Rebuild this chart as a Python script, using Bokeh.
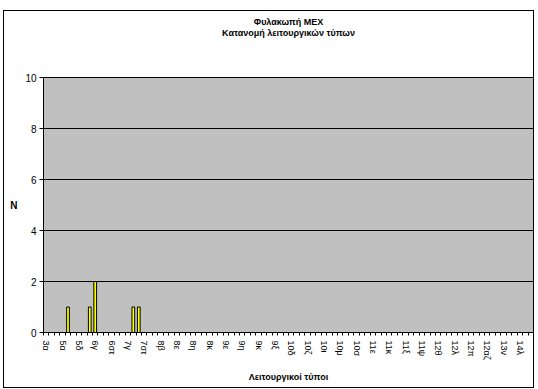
from bokeh.plotting import figure
from bokeh.models import Range1d, FixedTicker, ColumnDataSource, Title
from bokeh.embed import file_html
from bokeh.resources import INLINE

title_lines = ["Φυλακωπή MEX", "Κατανομή λειτουργικών τύπων"]
x_title = "Λειτουργικοί τύποι"
y_title = "N"

# one label for every third category (90 categories in all)
tick_labels = ["3α", "5α", "5δ", "6γ", "6στ", "7γ", "7στ", "8β", "8ε", "8η",
               "8κ", "9ε", "9η", "9κ", "9ξ", "10δ", "10ζ", "10ι", "10μ", "10σ",
               "11ε", "11κ", "11ξ", "11ψ", "12θ", "12λ", "12π", "12αζ", "13ν", "14λ"]
counts = [0, 0, 0, 0, 1, 0, 0, 0, 1, 2,
          0, 0, 0, 0, 0, 0, 1, 1, 0, 0,
          0, 0, 0, 0, 0, 0, 0, 0, 0, 0,
          0, 0, 0, 0, 0, 0, 0, 0, 0, 0,
          0, 0, 0, 0, 0, 0, 0, 0, 0, 0,
          0, 0, 0, 0, 0, 0, 0, 0, 0, 0,
          0, 0, 0, 0, 0, 0, 0, 0, 0, 0,
          0, 0, 0, 0, 0, 0, 0, 0, 0, 0,
          0, 0, 0, 0, 0, 0, 0, 0, 0, 0]
y_ticks = [0, 2, 4, 6, 8, 10]

n = len(counts)
xs = list(range(n))
src = ColumnDataSource(dict(x=xs, top=counts))

FONT = "Liberation Sans"

p = figure(width=531, height=378, output_backend="svg", toolbar_location=None,
           x_range=Range1d(-0.5, n - 0.5), y_range=Range1d(0, 10))
p.styles = {"margin-left": "3px", "margin-top": "10px",
            "border": "1px solid black"}
p.min_border_left = 39
p.min_border_right = 2
p.min_border_top = 66
p.min_border_bottom = 57
p.background_fill_color = "#C0C0C0"
p.border_fill_color = "white"
p.outline_line_color = "black"
p.outline_line_width = 1
p.title.text = ""

p.vbar(x="x", top="top", width=0.5, bottom=0, source=src,
       fill_color="#FFFF00", line_color="black", line_width=1)

def title_panel(text, standoff, valign):
    return Title(text=text, align="center", offset=-20, standoff=standoff,
                 vertical_align=valign, text_font=FONT, text_font_style="bold",
                 text_font_size="9px", text_color="black")

# panels stack outward from the frame: spacer, second line, first line
p.add_layout(title_panel(" ", 25, "top"), "above")
p.add_layout(title_panel(title_lines[1], 2, "top"), "above")
p.add_layout(title_panel(title_lines[0], 0, "bottom"), "above")

# grids
p.xgrid.grid_line_color = None
p.ygrid.grid_line_color = "black"
p.ygrid.grid_line_width = 1
p.ygrid.ticker = FixedTicker(ticks=y_ticks)

# y axis
p.yaxis.ticker = FixedTicker(ticks=y_ticks)
p.yaxis.axis_line_color = "black"
p.yaxis.major_tick_out = 4
p.yaxis.major_tick_in = 0
p.yaxis.minor_tick_line_color = None
p.yaxis.major_label_text_font = FONT
p.yaxis.major_label_text_font_size = "10px"
p.yaxis.major_label_text_color = "black"
p.yaxis.major_label_standoff = 3
p.yaxis.axis_label = y_title
p.yaxis.axis_label_orientation = "horizontal"
p.yaxis.axis_label_standoff = 5
p.yaxis.axis_label_text_font = FONT
p.yaxis.axis_label_text_font_style = "bold"
p.yaxis.axis_label_text_font_size = "10px"
p.yaxis.axis_label_text_color = "black"

# x axis
label_pos = [3 * j for j in range(len(tick_labels))]
p.xaxis.ticker = FixedTicker(ticks=label_pos, minor_ticks=[i - 0.5 for i in range(n + 1)])
p.xaxis.major_label_overrides = {pos: lab for pos, lab in zip(label_pos, tick_labels)}
p.xaxis.major_label_orientation = "vertical"
p.xaxis.major_tick_out = 0
p.xaxis.major_tick_in = 0
p.xaxis.minor_tick_out = 3
p.xaxis.minor_tick_in = 0
p.xaxis.minor_tick_line_color = "black"
p.xaxis.axis_line_color = "black"
p.xaxis.major_label_text_font = FONT
p.xaxis.major_label_text_font_size = "9px"
p.xaxis.major_label_text_color = "black"
p.xaxis.major_label_standoff = 5
p.xaxis.axis_label = x_title
p.xaxis.axis_label_standoff = 9
p.xaxis.axis_label_text_font = FONT
p.xaxis.axis_label_text_font_style = "bold"
p.xaxis.axis_label_text_font_size = "9px"
p.xaxis.axis_label_text_color = "black"

open("out.html", "w").write(file_html(p, INLINE))
